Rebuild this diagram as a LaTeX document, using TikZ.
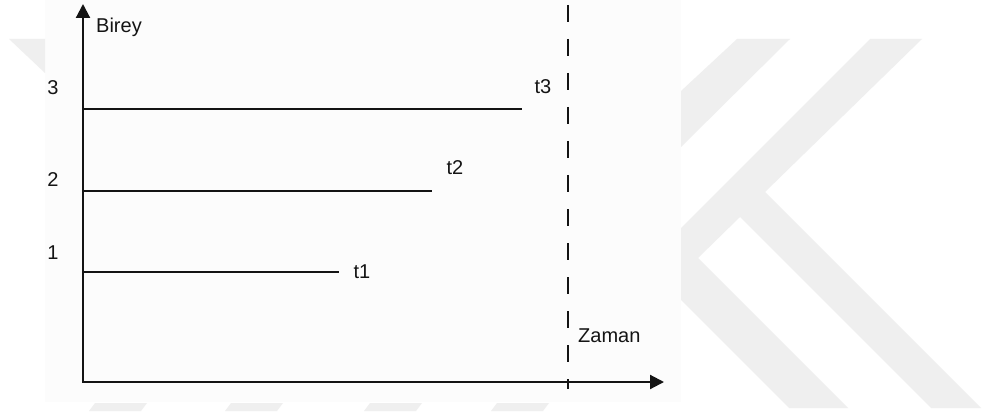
\documentclass[tikz,border=0pt]{standalone}
\usepackage{fontspec}
\setmainfont{Liberation Sans}
\usetikzlibrary{arrows.meta}
\definecolor{ink}{HTML}{141414}
\definecolor{paper}{HTML}{FCFCFC}
\definecolor{wm}{HTML}{EFEFEF}
\begin{document}
\begin{tikzpicture}[x=1pt,y=-1pt,
  axisline/.style={draw=ink, line width=2.1pt,
    {Triangle[length=14pt,width=14pt]}-{Triangle[length=14pt,width=14pt]}},
  level/.style={draw=ink, line width=2.1pt},
  limit/.style={draw=ink, line width=2pt, dash pattern=on 17pt off 17pt},
  lbl/.style={font=\fontsize{20}{24}\selectfont, text=ink, inner sep=0pt}]
\useasboundingbox (0,0) rectangle (984,414);
\fill[white] (0,0) rectangle (984,414);
\fill[paper] (45,0) rectangle (681,402);

% faint background emblem
\fill[wm] (9,39) -- (45,39) -- (45,73) -- cycle;
\fill[wm] (681,91) -- (737,39) -- (790,39) -- (681,147) -- cycle;
\fill[wm] (681,228) -- (870,39) -- (922,39) -- (765,192) -- (981,408)
  -- (931,408) -- (740,217) -- (698,258) -- (848,408) -- (789,408)
  -- (681,300) -- cycle;
\foreach \a in {89,225,364,491}
  \fill[wm] (\a+6,403) -- (\a+58,403) -- (\a+52,411) -- (\a,411) -- cycle;

% axes
\coordinate (O) at (83,382);
\coordinate (ytop) at (83,4);
\coordinate (xend) at (664,382);
\draw[axisline] (ytop) -- (O) -- (xend);
\node[lbl, anchor=west] (birey) at (96,27) {Birey};

% time limit
\coordinate (dtop) at (568,5);
\coordinate (dbot) at (568,389);
\draw[limit] (dtop) -- (dbot);
\node[lbl, anchor=west] (zaman) at (578,336) {Zaman};

% individuals
\coordinate (s3) at (83,109);  \coordinate (e3) at (522,109);
\coordinate (s2) at (83,191);  \coordinate (e2) at (432,191);
\coordinate (s1) at (83,272);  \coordinate (e1) at (339,272);
\draw[level] (s3) -- (e3);
\draw[level] (s2) -- (e2);
\draw[level] (s1) -- (e1);

\node[lbl] (n3) at (53,88) {3};
\node[lbl] (n2) at (53,180) {2};
\node[lbl] (n1) at (53,253) {1};
\node[lbl] (t3) at (543,87) {t3};
\node[lbl] (t2) at (455,168) {t2};
\node[lbl] (t1) at (362,272) {t1};
\end{tikzpicture}
\end{document}
